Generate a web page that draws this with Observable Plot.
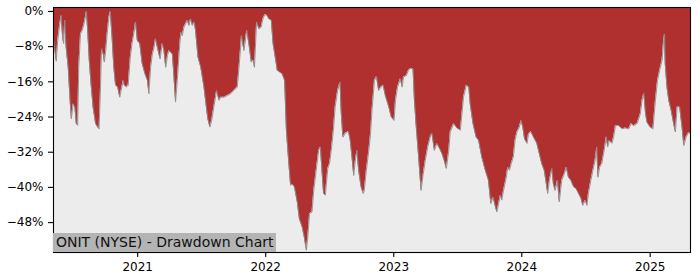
<!DOCTYPE html>
<html><head><meta charset="utf-8">
<script src="https://cdn.jsdelivr.net/npm/d3@7"></script>
<script src="https://cdn.jsdelivr.net/npm/@observablehq/plot@0.6"></script>
<style>
body{margin:0;background:#fff;}
#wrap{position:relative;width:700px;height:280px;}
#title{position:absolute;left:53px;top:233px;height:19px;padding:0 2px 0 3px;background:#b4b4b4;font:14px "DejaVu Sans",sans-serif;line-height:19px;color:#111;white-space:nowrap;}
</style></head><body><div id="wrap"></div>
<script>
const titleText = "ONIT (NYSE) - Drawdown Chart";
const dates = [
"2020-05-06","2020-05-14","2020-05-18","2020-05-24","2020-05-28","2020-06-01","2020-06-04","2020-06-07","2020-06-11","2020-06-17",
"2020-06-23","2020-06-26","2020-07-01","2020-07-06","2020-07-10","2020-07-14","2020-07-17","2020-07-22","2020-07-27","2020-07-31",
"2020-08-05","2020-08-08","2020-08-12","2020-08-16","2020-08-21","2020-08-27","2020-09-03","2020-09-09","2020-09-13","2020-09-17",
"2020-09-20","2020-09-25","2020-09-28","2020-10-02","2020-10-06","2020-10-11","2020-10-15","2020-10-20","2020-10-25","2020-10-30",
"2020-11-05","2020-11-11","2020-11-15","2020-11-21","2020-11-24","2020-11-30","2020-12-05","2020-12-11","2020-12-16","2020-12-21",
"2020-12-26","2020-12-31","2021-01-07","2021-01-14","2021-01-22","2021-01-29","2021-02-02","2021-02-07","2021-02-12","2021-02-16",
"2021-02-21","2021-02-26","2021-03-06","2021-03-12","2021-03-17","2021-03-22","2021-03-27","2021-03-31","2021-04-05","2021-04-10",
"2021-04-14","2021-04-19","2021-04-24","2021-04-29","2021-05-04","2021-05-08","2021-05-13","2021-05-18","2021-05-23","2021-05-27",
"2021-06-01","2021-06-06","2021-06-11","2021-06-15","2021-06-22","2021-06-30","2021-07-09","2021-07-16","2021-07-20","2021-07-26",
"2021-07-31","2021-08-06","2021-08-14","2021-08-21","2021-08-26","2021-09-04","2021-09-14","2021-09-23","2021-10-02","2021-10-12",
"2021-10-17","2021-10-24","2021-10-31","2021-11-08","2021-11-14","2021-11-21","2021-11-27","2021-11-30","2021-12-06","2021-12-13",
"2021-12-19","2021-12-24","2021-12-30","2022-01-05","2022-01-10","2022-01-17","2022-01-22","2022-01-29","2022-02-03","2022-02-10",
"2022-02-17","2022-02-24","2022-03-01","2022-03-08","2022-03-13","2022-03-18","2022-03-24","2022-04-01","2022-04-07","2022-04-15",
"2022-04-21","2022-04-27","2022-05-01","2022-05-06","2022-05-13","2022-05-18","2022-05-25","2022-06-01","2022-06-06","2022-06-11",
"2022-06-15","2022-06-20","2022-06-27","2022-07-02","2022-07-07","2022-07-13","2022-07-18","2022-07-25","2022-08-01","2022-08-04",
"2022-08-09","2022-08-16","2022-08-25","2022-08-30","2022-09-04","2022-09-09","2022-09-13","2022-09-18","2022-09-23","2022-09-30",
"2022-10-06","2022-10-09","2022-10-15","2022-10-22","2022-10-27","2022-10-31","2022-11-07","2022-11-13","2022-11-19","2022-11-26",
"2022-12-02","2022-12-08","2022-12-18","2022-12-25","2023-01-02","2023-01-06","2023-01-12","2023-01-20","2023-01-25","2023-01-29",
"2023-02-06","2023-02-12","2023-02-17","2023-02-25","2023-03-01","2023-03-06","2023-03-13","2023-03-20","2023-03-26","2023-04-01",
"2023-04-08","2023-04-15","2023-04-20","2023-04-27","2023-05-04","2023-05-12","2023-05-19","2023-05-25","2023-05-31","2023-06-07",
"2023-06-11","2023-06-21","2023-06-30","2023-07-10","2023-07-19","2023-07-27","2023-08-03","2023-08-07","2023-08-15","2023-08-24",
"2023-08-31","2023-09-09","2023-09-19","2023-09-28","2023-10-05","2023-10-11","2023-10-17","2023-10-22","2023-10-27","2023-11-01",
"2023-11-05","2023-11-10","2023-11-18","2023-11-22","2023-11-27","2023-12-02","2023-12-08","2023-12-13","2023-12-18","2023-12-25",
"2023-12-30","2024-01-04","2024-01-09","2024-01-16","2024-01-20","2024-01-27","2024-02-03","2024-02-13","2024-02-20","2024-02-27",
"2024-03-05","2024-03-11","2024-03-15","2024-03-20","2024-03-27","2024-03-31","2024-04-05","2024-04-12","2024-04-17","2024-04-24",
"2024-05-01","2024-05-07","2024-05-13","2024-05-20","2024-05-28","2024-06-04","2024-06-11","2024-06-18","2024-06-23","2024-06-30",
"2024-07-05","2024-07-09","2024-07-16","2024-07-22","2024-07-28","2024-08-02","2024-08-05","2024-08-10","2024-08-16","2024-08-23",
"2024-08-29","2024-09-02","2024-09-07","2024-09-14","2024-09-19","2024-09-24","2024-10-03","2024-10-13","2024-10-22","2024-11-01",
"2024-11-08","2024-11-15","2024-11-25","2024-12-04","2024-12-09","2024-12-14","2024-12-19","2024-12-23","2025-01-01","2025-01-09",
"2025-01-16","2025-01-22","2025-01-28","2025-02-04","2025-02-08","2025-02-11","2025-02-13","2025-02-18","2025-02-23","2025-03-02",
"2025-03-09","2025-03-14","2025-03-19","2025-03-26","2025-04-02","2025-04-07","2025-04-14","2025-04-21","2025-04-26"
];
const drawdown = [
-6.2,-11.3,-6.6,-2.8,-0.9,-5.8,-7.3,-2.0,-8.1,-12.7,
-21,-24.4,-21,-21.8,-25.5,-25.9,-12.7,-5.1,-4.3,-3.2,
-1.3,0,-5.1,-11.1,-16.4,-21.8,-25.5,-26.3,-26.7,-17.2,
-8.5,-9.7,-11.5,-8.9,-5.1,-1.3,0,-5.8,-12.7,-16.8,
-17.2,-19.5,-17.9,-15.7,-16.8,-17.2,-16.8,-10.4,-7.3,-5.1,
-2.4,-6.6,-7.3,-11.9,-14.2,-15.7,-18.7,-12.7,-9.7,-8.5,
-6.2,-8.1,-10.8,-7.3,-8.9,-12.7,-10,-8.9,-9.3,-9.7,
-14.2,-20.6,-15.7,-9.7,-4.7,-5.5,-3.6,-2.8,-2.0,-3.2,
-1.7,-3.2,-2.4,-4.3,-10.4,-12.7,-17.2,-21.8,-24.4,-26.3,
-24.8,-21.8,-18,-20.2,-19.5,-19.5,-19.1,-18.7,-18,-17.2,
-12.7,-5.5,-8.9,-4.3,-7.3,-11.5,-11.1,-12.7,-2.4,-4,
-3.6,-1.7,-0.7,-0.9,-1.7,-2.0,-7.3,-10.8,-13.4,-13.8,
-14.2,-15.7,-27,-34.6,-39.5,-39.3,-39.9,-43.3,-47.1,-49,
-51.3,-54.3,-51.3,-46,-45.6,-40.7,-36.1,-31.6,-30.8,-36.9,
-41.4,-41.8,-35.7,-34.6,-31.6,-27,-21.7,-18,-16.1,-22.5,
-28.6,-27.7,-27.3,-29.3,-33.1,-37.3,-34.2,-31.6,-36.1,-39.9,
-41.4,-40.7,-36.1,-31.6,-27.7,-22.5,-15.7,-14.8,-18,-17.2,
-16.8,-19.1,-21.7,-24,-24.8,-20.2,-17.2,-15.3,-17.2,-14.9,
-14.6,-13.4,-13,-13,-20.2,-26,-33.1,-40.7,-37,-33.9,
-30.8,-28.6,-27.7,-31.6,-30,-31.2,-32.4,-33.9,-35.7,-31.6,
-27.4,-25.5,-26.5,-27,-19.5,-16.8,-17.2,-21,-25.5,-28.6,
-29.3,-33.1,-36.1,-38.4,-43.7,-42.2,-44.1,-45.6,-43.7,-41.8,
-42.9,-40.7,-37.7,-35.4,-36.1,-34.6,-33.1,-29.3,-27.5,-26.3,
-24.8,-26.3,-29,-30,-28,-27.3,-28.5,-30,-32.3,-34.6,
-36.1,-39.1,-41.4,-38.4,-35.7,-39.1,-40.7,-38.4,-43.3,-38.4,
-37,-35.4,-37.7,-38.4,-39.9,-40.3,-41.4,-42.5,-44.1,-42.9,
-44.1,-41.4,-38.4,-36.1,-33.9,-30.8,-37.7,-35.4,-34.6,-31.6,
-28.5,-30.8,-29.3,-30,-28.5,-26,-25.9,-26.7,-26.5,-26.7,
-25.5,-26,-25.5,-23.3,-20.2,-18.6,-23.3,-25.2,-26.3,-26.7,
-20.2,-15.7,-13.4,-11.1,-7,-5.1,-11.9,-17.2,-20.2,-22.5,
-25.5,-27.4,-21.7,-21.7,-26.3,-30.5,-28.5,-27.5,-27.8
];
const yTicks = [0, -8, -16, -24, -32, -40, -48];
const xTickYears = [2021, 2022, 2023, 2024, 2025];
const yDomain = [-54.8, 0.9];

const data = dates.map((d, i) => ({date: new Date(d), dd: drawdown[i]}));
const xDomain = [data[0].date, data[data.length - 1].date];

const chart = Plot.plot({
  width: 700,
  height: 280,
  marginLeft: 53,
  marginRight: 10,
  marginTop: 7,
  marginBottom: 28,
  style: {fontFamily: "DejaVu Sans, sans-serif", fontSize: "12px", color: "#000", background: "#fff"},
  x: {type: "utc", domain: xDomain, label: null},
  y: {domain: yDomain, label: null},
  marks: [
    Plot.frame({fill: "#ececec"}),
    Plot.areaY(data, {x: "date", y1: yDomain[1], y2: "dd", fill: "#b03030"}),
    Plot.lineY(data, {x: "date", y: "dd", stroke: "#8c8c8c", strokeWidth: 0.9}),
    Plot.axisY({ticks: yTicks, tickSize: 5, tickPadding: 5, tickFormat: d => d === 0 ? "0%" : "\u2212" + Math.abs(d) + "%", stroke: "#000", strokeWidth: 1.1, fill: "#000", fontSize: 12}),
    Plot.axisX({ticks: xTickYears.map(y => new Date(Date.UTC(y, 0, 1))), tickSize: 5, tickPadding: 5, tickFormat: d3.utcFormat("%Y"), stroke: "#000", strokeWidth: 1.1, fill: "#000", fontSize: 12}),
    Plot.frame({stroke: "#000", strokeWidth: 1.1})
  ]
});
const wrap = document.getElementById("wrap");
wrap.appendChild(chart);
const t = document.createElement("div");
t.id = "title";
t.textContent = titleText;
wrap.appendChild(t);
</script>
</body></html>
